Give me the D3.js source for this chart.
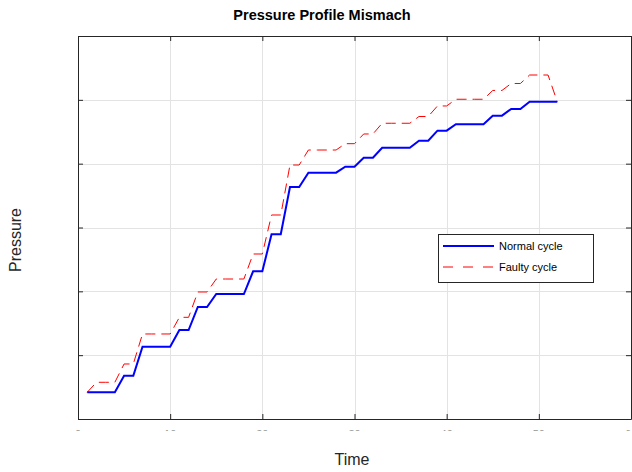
<!DOCTYPE html>
<html>
<head>
<meta charset="utf-8">
<script src="https://cdn.jsdelivr.net/npm/d3@7"></script>
<style>
  html, body { margin: 0; padding: 0; background: #fff; }
  svg { display: block; font-family: "Liberation Sans", Arial, Helvetica, sans-serif; }
</style>
</head>
<body>
<svg id="chart" width="632" height="472"></svg>
<script>
// Sample times (s)
const time = d3.range(1, 53);

// Pressure readings per sample, normal cycle
const normalCycle = [
  0.418, 0.418, 0.418, 0.418, 0.678, 0.678, 1.133, 1.133, 1.133, 1.133,
  1.394, 1.394, 1.755, 1.755, 1.958, 1.958, 1.958, 1.958, 2.314, 2.314,
  2.894, 2.894, 3.635, 3.635, 3.859, 3.859, 3.859, 3.859, 3.953, 3.953,
  4.094, 4.094, 4.250, 4.250, 4.250, 4.250, 4.360, 4.360, 4.517, 4.517,
  4.617, 4.617, 4.617, 4.617, 4.752, 4.752, 4.857, 4.857, 4.971, 4.971,
  4.971, 4.971
];

// Pressure readings per sample, faulty cycle
const faultyCycle = [
  0.418, 0.575, 0.575, 0.575, 0.862, 0.862, 1.332, 1.332, 1.332, 1.332,
  1.593, 1.593, 1.990, 1.990, 2.193, 2.193, 2.193, 2.193, 2.585, 2.585,
  3.196, 3.196, 3.979, 3.979, 4.214, 4.214, 4.214, 4.214, 4.313, 4.313,
  4.465, 4.465, 4.633, 4.633, 4.633, 4.633, 4.739, 4.739, 4.904, 4.904,
  5.009, 5.009, 5.009, 5.009, 5.147, 5.147, 5.256, 5.256, 5.389, 5.389,
  5.389, 4.971
];

const xTicks = [0, 10, 20, 30, 40, 50, 60];
const yTicks = [0, 1, 2, 3, 4, 5, 6];
const seriesNames = ["Normal cycle", "Faulty cycle"];

const svg = d3.select("#chart");
const plot = { left: 78, right: 631, top: 36, bottom: 419 };

const x = d3.scaleLinear().domain([0, 60]).range([plot.left, plot.right]);
const y = d3.scaleLinear().domain([0, 6]).range([plot.bottom, plot.top]);

// Grid
const grid = svg.append("g").attr("stroke", "#e3e3e3").attr("stroke-width", 1);
grid.selectAll("line.gx").data(xTicks.slice(1, -1)).join("line")
  .attr("x1", d => Math.round(x(d)) + 0.5).attr("x2", d => Math.round(x(d)) + 0.5)
  .attr("y1", plot.top).attr("y2", plot.bottom);
grid.selectAll("line.gy").data(yTicks.slice(1, -1)).join("line")
  .attr("y1", d => Math.round(y(d)) + 0.5).attr("y2", d => Math.round(y(d)) + 0.5)
  .attr("x1", plot.left).attr("x2", plot.right);

// Axes with inward ticks on all four sides
const axisColor = "#262626";
const tickLen = 5;
const bottomAxis = svg.append("g").attr("transform", `translate(0,${plot.bottom})`)
  .call(d3.axisBottom(x).tickValues(xTicks).tickSizeInner(-tickLen).tickSizeOuter(0).tickFormat(""));
const topAxis = svg.append("g").attr("transform", `translate(0,${plot.top})`)
  .call(d3.axisTop(x).tickValues(xTicks).tickSizeInner(-tickLen).tickSizeOuter(0).tickFormat(""));
const leftAxis = svg.append("g").attr("transform", `translate(${plot.left},0)`)
  .call(d3.axisLeft(y).tickValues(yTicks).tickSizeInner(-tickLen).tickSizeOuter(0).tickFormat(""));
const rightAxis = svg.append("g").attr("transform", `translate(${plot.right},0)`)
  .call(d3.axisRight(y).tickValues(yTicks).tickSizeInner(-tickLen).tickSizeOuter(0).tickFormat(""));
[bottomAxis, topAxis, leftAxis, rightAxis].forEach(g => {
  g.selectAll("path.domain").attr("stroke", axisColor).attr("stroke-width", 1);
  g.selectAll(".tick line").attr("stroke", axisColor).attr("stroke-width", 1);
});

// Time tick labels, cropped by the figure frame below the axis
svg.append("clipPath").attr("id", "tickClip")
  .append("rect").attr("x", 0).attr("y", 0).attr("width", 632).attr("height", 430.6);
svg.append("g").attr("clip-path", "url(#tickClip)")
  .selectAll("text").data(xTicks).join("text")
  .attr("x", d => x(d)).attr("y", 437.5)
  .attr("text-anchor", "middle").attr("font-size", 11).attr("fill", axisColor)
  .text(d => d);

// Lines
const line = d3.line().x((d, i) => x(time[i])).y(d => y(d));
svg.append("path").datum(faultyCycle)
  .attr("d", line).attr("fill", "none")
  .attr("stroke", "#ff0000").attr("stroke-width", 1)
  .attr("stroke-dasharray", "10,6");
svg.append("path").datum(normalCycle)
  .attr("d", line).attr("fill", "none")
  .attr("stroke", "#0000ff").attr("stroke-width", 2)
  .attr("stroke-linejoin", "miter");

// Title and axis labels
svg.append("text").attr("x", 322).attr("y", 20)
  .attr("text-anchor", "middle").attr("font-size", 14.5).attr("font-weight", "bold")
  .attr("fill", "#000").text("Pressure Profile Mismach");
svg.append("text").attr("x", 352).attr("y", 465)
  .attr("text-anchor", "middle").attr("font-size", 16).attr("fill", "#262626").text("Time");
svg.append("text").attr("transform", "translate(21,240) rotate(-90)")
  .attr("text-anchor", "middle").attr("font-size", 16).attr("fill", "#262626").text("Pressure");

// Legend
const lg = svg.append("g");
lg.append("rect").attr("x", 438.5).attr("y", 234.5).attr("width", 155).attr("height", 48)
  .attr("fill", "#fff").attr("stroke", axisColor).attr("stroke-width", 1);
const legendItems = [
  { name: seriesNames[0], color: "#0000ff", width: 2, dash: null },
  { name: seriesNames[1], color: "#ff0000", width: 1, dash: "10,10" }
];
legendItems.forEach((d, i) => {
  const cy = 246 + i * 21;
  lg.append("line").attr("x1", 443).attr("x2", 494).attr("y1", cy).attr("y2", cy)
    .attr("stroke", d.color).attr("stroke-width", d.width)
    .attr("stroke-dasharray", d.dash);
  lg.append("text").attr("x", 499).attr("y", cy + 4)
    .attr("font-size", 11).attr("fill", "#000").text(d.name);
});
</script>
</body>
</html>
